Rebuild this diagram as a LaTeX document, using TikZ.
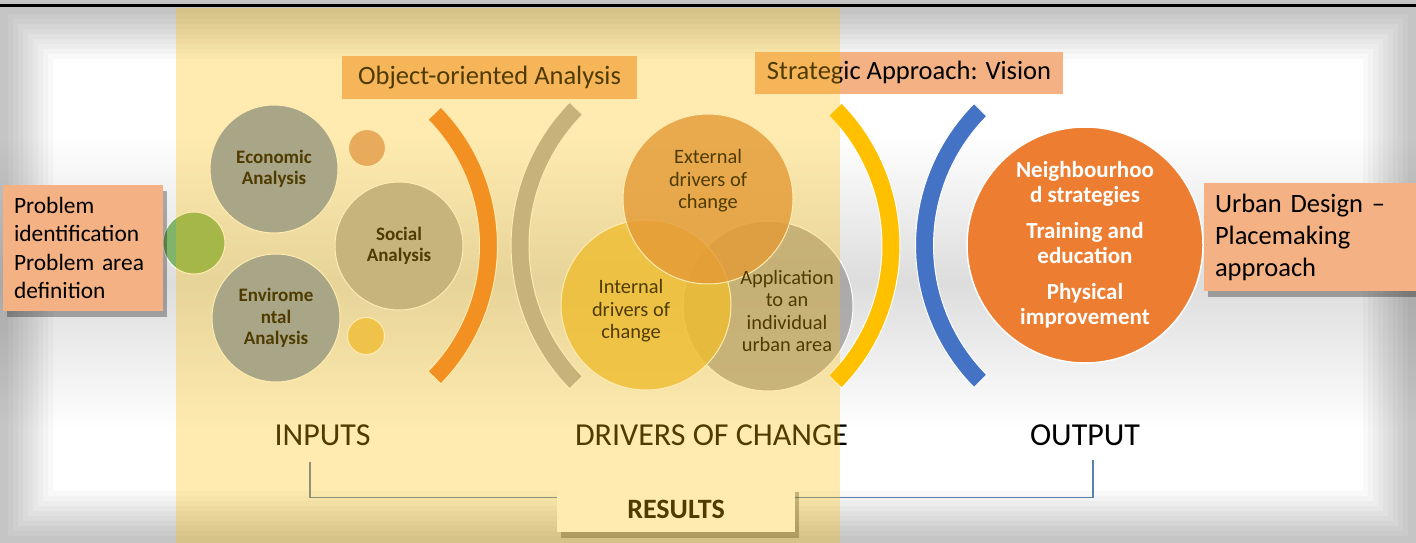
\documentclass[tikz,border=0pt]{standalone}
\usepackage{fontspec}
\setmainfont{Carlito}
\usetikzlibrary{calc,shadows}
\definecolor{boxsalmon}{HTML}{F4B183}
\definecolor{bandgold}{HTML}{FFC000}
\definecolor{econgray}{HTML}{829BC3}
\definecolor{socgray}{HTML}{AFAFB3}
\definecolor{probgreen}{HTML}{7FB46A}
\definecolor{dotorange}{HTML}{DEA185}
\definecolor{dotyellow}{HTML}{E8C56B}
\definecolor{extorange}{HTML}{D98A4E}
\definecolor{intyellow}{HTML}{E8BC44}
\definecolor{appgray}{HTML}{A09D9E}
\definecolor{arcorange}{HTML}{ED7D31}
\definecolor{arcgray}{HTML}{AFAEB1}
\definecolor{arcyellow}{HTML}{FFC000}
\definecolor{arcblue}{HTML}{4472C4}
\definecolor{linkblue}{HTML}{5B7FAF}
\begin{document}
\begin{tikzpicture}[x=1pt,y=-1pt,inner sep=0pt,outer sep=0pt,
tag/.style={fill=boxsalmon,inner xsep=11pt,align=left,font=\fontsize{23.4}{28.5}\selectfont},
headbox/.style={fill=boxsalmon,font=\fontsize{26.5}{32}\selectfont},
bubble/.style={draw=white,line width=1pt,circle,minimum size=128pt,align=center,font=\bfseries\fontsize{19}{21.5}\selectfont},
dot/.style={draw=white,line width=1pt,circle,minimum size=37pt},
venn/.style={draw=white,line width=1pt,circle,minimum size=170pt,fill opacity=.8},
venntext/.style={align=center,font=\fontsize{20.4}{22.5}\selectfont},
stage/.style={font=\fontsize{32}{38}\selectfont},
softshadow/.style={drop shadow={shadow xshift=4pt,shadow yshift=-6pt,opacity=.3,fill=black}},
link/.style={draw=linkblue,line width=1.2pt}]
\useasboundingbox (0,0) rectangle (1416,543);
% background, haze and frame
\fill[white] (0,0) rectangle (1416,543);
\shade[top color=white,bottom color=white,middle color=gray!27] (0,135) rectangle (1416,430);
\foreach \i in {0,...,9}
  \fill[black,fill opacity=.022,even odd rule] (0,0) rectangle (1416,543) (8+5*\i,14+5*\i) rectangle (1408-5*\i,536-5*\i);
\draw[line width=2.5pt] (0,5.5) -- (1416,5.5);
% brackets
\foreach \cx/\R/\a/\b/\col in {300/188.5/-44.5/44.5/arcorange, 715.6/195.6/135.5/224.5/arcgray, 696.6/194.4/-44.5/44.5/arcyellow, 1117/192.5/135.2/224.8/arcblue}
  \filldraw[fill=\col,draw=white,line width=1pt] plot[domain=\a:\b,samples=40,variable=\t] ({\cx+(\R+9)*cos(\t)},{245.5+(\R+9)*sin(\t)}) -- plot[domain=\b:\a,samples=40,variable=\t] ({\cx+(\R-9)*cos(\t)},{245.5+(\R-9)*sin(\t)}) -- cycle;
% inputs
\draw (194,243) node[dot,minimum size=62pt,fill=probgreen] (probdot) {};
\draw (274,169) node[bubble,fill=econgray] (econ) {Economic\\Analysis};
\draw (399,246) node[bubble,fill=socgray] (social) {Social\\Analysis};
\draw (276,318) node[bubble,fill=econgray] (envir) {Envirome\\ntal\\Analysis};
\draw (367,148) node[dot,fill=dotorange] (dotup) {};
\draw (366,336) node[dot,fill=dotyellow] (dotdown) {};
% drivers of change
\draw (768,306) node[venn,fill=appgray] (app) {};
\draw (646,305) node[venn,fill=intyellow] (int) {};
\draw (708,199) node[venn,fill=extorange] (ext) {};
\draw (708,181) node[venntext] (exttext) {External\\drivers of\\change};
\draw (631,311) node[venntext] (inttext) {Internal\\drivers of\\change};
\draw (787,311) node[venntext] (apptext) {Application\\to an\\individual\\urban area};
% output
\draw (1085,245) node[bubble,minimum size=236pt,fill=arcorange,text=white,line width=1.5pt,font=\bfseries\fontsize{23}{25}\selectfont] (outcome) {Neighbourhoo\\d strategies\\[11pt]Training and\\education\\[11pt]Physical\\improvement};
% text boxes
\draw (83,248) node[tag,softshadow,text width=138pt,minimum height=126pt] (problem) {Problem\\identification\\Problem area\\definition};
\draw (1204,237) node[tag,softshadow,anchor=west,text width=190pt,minimum height=108pt,font=\fontsize{26.5}{32}\selectfont] (urban) {Urban Design \textendash\\Placemaking\\approach};
\draw (489.5,77.5) node[headbox,minimum width=295pt,minimum height=43pt] (objhead) {Object-oriented Analysis};
\draw (909,73) node[headbox,minimum width=308pt,minimum height=42pt] (stratHead) {Strategic Approach: Vision};
% stages and results
\draw (322.5,435) node[stage] (inputs) {INPUTS};
\draw (711.5,435) node[stage] (drivers) {DRIVERS OF CHANGE};
\draw (1085,435) node[stage] (output) {OUTPUT};
\coordinate (inL) at ($(inputs.south)+(-12.5,16)$);
\coordinate (outR) at ($(output.south)+(8,14)$);
\draw[link] (inL) -- ++(0,36) -| (outR);
\draw (676,509) node[fill=white,softshadow,minimum width=238pt,minimum height=46pt,font=\bfseries\fontsize{28}{32}\selectfont] (results) {RESULTS};
% yellow band on top
\fill[bandgold,fill opacity=.31] (176,8) rectangle (840,543);
\end{tikzpicture}
\end{document}
